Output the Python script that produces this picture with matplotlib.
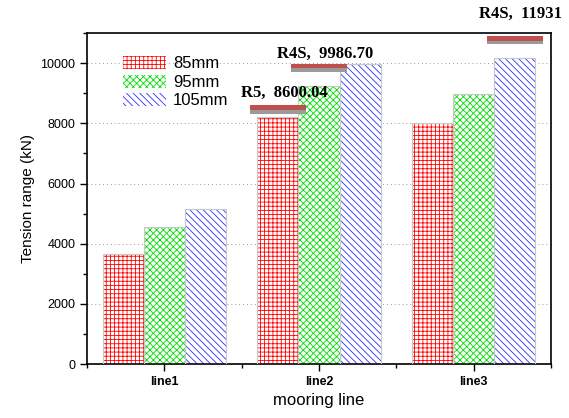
import matplotlib
matplotlib.use("Agg")
import matplotlib.pyplot as plt
from matplotlib.ticker import MultipleLocator
from matplotlib.patches import Patch
import numpy as np

plt.rcParams["font.family"] = ["Liberation Sans", "DejaVu Sans"]
plt.rcParams["hatch.linewidth"] = 0.6

categories = ["line1", "line2", "line3"]
series_names = ["85mm", "95mm", "105mm"]
tension = {
    "85mm": [3650, 8200, 8000],
    "95mm": [4560, 9240, 8970],
    "105mm": [5150, 9960, 10170],
}
colors = ["#ff0000", "#00dd00", "#3030ff"]
hatches = ["++++", "xxxxx", "\\\\\\\\\\"]

# grade limits: label, value, which line / which bar, drawn height
grade_labels = ["R5", "R4S", "R4S"]
grade_values = ["8600.04", "9986.70", "11931"]
grade_cat = [1, 1, 2]
grade_series = [0, 1, 2]
grade_draw = [8600, 9986.7, 10900]
label_gap = [130, 70, 480]

fig = plt.figure(figsize=(5.69, 4.18), dpi=100)
ax = fig.add_axes([0.153, 0.129, 0.815, 0.792])

x = np.arange(len(categories)) + 0.5
w = 0.8 / 3
for i, name in enumerate(series_names):
    xs = x + (i - 1) * w
    ax.bar(xs, tension[name], width=w, color="white", edgecolor=colors[i],
           hatch=hatches[i], linewidth=0, zorder=2)
    ax.bar(xs, tension[name], width=w, fill=False, edgecolor="#c8c8c8",
           linewidth=0.8, zorder=3)

handles = [Patch(facecolor="white", edgecolor=colors[i], hatch=hatches[i], linewidth=0)
           for i in range(3)]
ax.legend(handles, series_names, loc="upper left", bbox_to_anchor=(0.045, 0.975),
          frameon=False, fontsize=12, handlelength=2.6, handleheight=0.8,
          labelspacing=0.2, handletextpad=0.4)

for k in range(len(grade_labels)):
    cx = x[grade_cat[k]] + (grade_series[k] - 1) * w
    yv = grade_draw[k]
    bw = 0.36
    ax.fill_between([cx - bw / 2, cx + bw / 2], yv - 280, yv - 150,
                    color="#9a9a9a", lw=0, zorder=5)
    ax.fill_between([cx - bw / 2, cx + bw / 2], yv - 160, yv,
                    color="#c0504d", lw=0, zorder=6)
    ax.text(cx + 0.04, yv + label_gap[k], f"{grade_labels[k]},  {grade_values[k]}",
            ha="center", va="bottom", fontsize=12, fontweight="bold",
            family="Liberation Serif", zorder=7, clip_on=False)

ax.set_xlim(0, 3)
ax.set_ylim(0, 11000)
ax.set_xticks(x)
ax.set_xticklabels(categories, fontsize=9, fontweight="bold")
ax.xaxis.set_minor_locator(MultipleLocator(1))
ax.yaxis.set_major_locator(MultipleLocator(2000))
ax.yaxis.set_minor_locator(MultipleLocator(1000))
ax.tick_params(axis="y", labelsize=9)
ax.tick_params(which="major", length=5, width=1)
ax.tick_params(which="minor", length=3, width=1)
ax.yaxis.grid(True, linestyle=(0, (1, 3)), color="#999999", linewidth=0.7, zorder=0)
ax.set_axisbelow(True)
for s in ax.spines.values():
    s.set_linewidth(1.2)

ax.set_xlabel("mooring line", fontsize=12)
ax.set_ylabel("Tension range (kN)", fontsize=11)

fig.savefig("out.png", dpi=100)
